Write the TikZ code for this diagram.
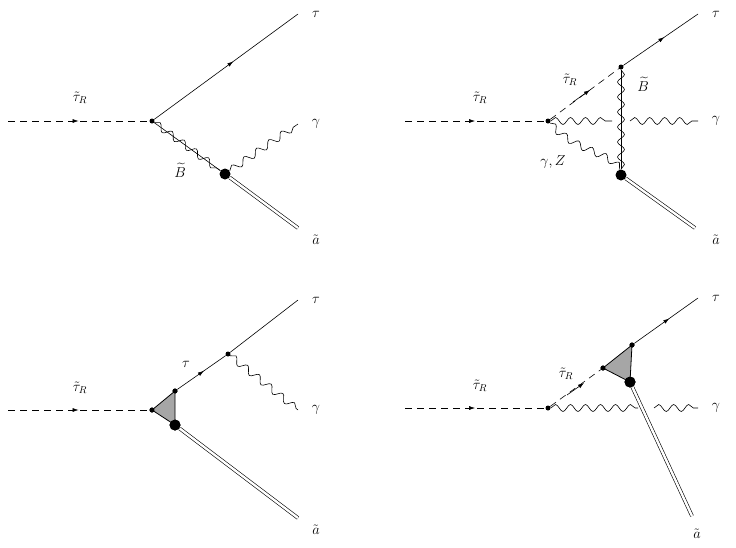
\documentclass[tikz,border=0pt]{standalone}
\usepackage{amsmath}
\usepackage{amssymb}
\usetikzlibrary{arrows.meta}
\usetikzlibrary{decorations.pathmorphing}
\usetikzlibrary{decorations.markings}
\tikzset{
  scalar/.style={dashed,dash pattern=on 7pt off 5pt,postaction={decorate},decoration={markings,mark=at position .5 with {\arrow[solid]{Latex[length=6pt,width=4pt]}}}},
  fermion/.style={postaction={decorate},decoration={markings,mark=at position .55 with {\arrow{Latex[length=6pt,width=4pt]}}}},
  photon/.style={decorate,decoration={snake,amplitude=3.5pt,segment length=15pt}},
  gaugino/.style={postaction={draw,decorate,decoration={snake,amplitude=3.5pt,segment length=15pt}}},
  axino/.style={double,double distance=2.4pt},
  vtx/.style={circle,fill=black,inner sep=0pt,minimum size=5pt},
  bigvtx/.style={circle,fill=black,inner sep=0pt,minimum size=11pt},
  blob/.style={fill=black!35,thick},
  lbl/.style={font=\Large}
}
\begin{document}
\begin{tikzpicture}[x=1pt,y=-1pt,line width=0.6pt]
    \useasboundingbox (0,0) rectangle (736,547);
    % top left
    \coordinate (a1) at (8,121);
    \node[vtx] (v1) at (152,121) {};
    \node[bigvtx] (b1) at (225,174) {};
    \coordinate (t1) at (298,14);
    \coordinate (g1) at (298,124);
    \coordinate (x1) at (298,228);
    \draw[scalar] (a1) -- (v1);
    \draw[fermion] (v1) -- (t1);
    \draw[gaugino] (v1) -- (b1);
    \draw[photon] (b1) -- (g1);
    \draw[axino] (b1) -- (x1);
    \node[lbl] at (80,98) {$\tilde\tau_R$};
    \node[lbl] at (180,170) {$\widetilde B$};
    \node[lbl] at (316,14) {$\tau$};
    \node[lbl] at (316,124) {$\gamma$};
    \node[lbl] at (316,240) {$\tilde a$};
    % top right
    \coordinate (a2) at (405,121);
    \node[vtx] (v2) at (548,121) {};
    \node[vtx] (u2) at (621,67) {};
    \node[bigvtx] (b2) at (621,175) {};
    \coordinate (t2) at (698,14);
    \coordinate (c2) at (612,121);
    \coordinate (d2) at (630,121);
    \coordinate (g2) at (698,121);
    \coordinate (x2) at (695,228);
    \draw[scalar] (a2) -- (v2);
    \draw[dashed,dash pattern=on 7pt off 5pt] (v2) -- (u2);
    \draw[-{Latex[length=6pt,width=4pt]}] (573,102) -- (590,90);
    \draw[fermion] (u2) -- (t2);
    \draw[gaugino] (u2) -- (b2);
    \draw[photon] (v2) -- (c2);
    \draw[photon] (d2) -- (g2);
    \draw[photon] (v2) .. controls (575,150) and (612,150) .. (b2);
    \draw[axino] (b2) -- (x2);
    \node[lbl] at (480,98) {$\tilde\tau_R$};
    \node[lbl] at (570,80) {$\tilde\tau_R$};
    \node[lbl] at (643,84) {$\widetilde B$};
    \node[lbl] at (553,162) {$\gamma, Z$};
    \node[lbl] at (716,14) {$\tau$};
    \node[lbl] at (716,121) {$\gamma$};
    \node[lbl] at (716,240) {$\tilde a$};
    % bottom left
    \coordinate (a3) at (8,410);
    \node[vtx] (v3) at (152,410) {};
    \node[vtx] (p3) at (175,391) {};
    \node[bigvtx] (b3) at (175,425) {};
    \node[vtx] (w3) at (228,354) {};
    \coordinate (t3) at (298,300);
    \coordinate (g3) at (298,410);
    \coordinate (x3) at (298,518);
    \draw[scalar] (a3) -- (v3);
    \draw[blob] (v3.center) -- (p3.center) -- (b3.center) -- cycle;
    \draw[fermion] (p3) -- (w3);
    \draw (w3) -- (t3);
    \draw[photon] (w3) -- (g3);
    \draw[axino] (b3) -- (x3);
    \node[vtx] at (v3) {};
    \node[vtx] at (p3) {};
    \node[bigvtx] at (b3) {};
    \node[lbl] at (80,388) {$\tilde\tau_R$};
    \node[lbl] at (186,364) {$\tau$};
    \node[lbl] at (316,300) {$\tau$};
    \node[lbl] at (316,410) {$\gamma$};
    \node[lbl] at (316,530) {$\tilde a$};
    % bottom right
    \coordinate (a4) at (405,408);
    \node[vtx] (v4) at (548,408) {};
    \node[vtx] (l4) at (603,368) {};
    \node[vtx] (p4) at (632,345) {};
    \node[bigvtx] (b4) at (630,382) {};
    \coordinate (t4) at (698,298);
    \coordinate (c4) at (638,408);
    \coordinate (d4) at (654,408);
    \coordinate (g4) at (698,408);
    \coordinate (x4) at (692,516);
    \draw[scalar] (a4) -- (v4);
    \draw[dashed,dash pattern=on 7pt off 5pt] (v4) -- (l4);
    \draw[-{Latex[length=6pt,width=4pt]}] (567,395) -- (584,383);
    \draw[blob] (l4.center) -- (p4.center) -- (b4.center) -- cycle;
    \draw[fermion] (p4) -- (t4);
    \draw[photon] (v4) -- (c4);
    \draw[photon] (d4) -- (g4);
    \draw[axino] (b4) -- (x4);
    \node[vtx] at (l4) {};
    \node[vtx] at (p4) {};
    \node[bigvtx] at (b4) {};
    \node[lbl] at (480,386) {$\tilde\tau_R$};
    \node[lbl] at (566,374) {$\tilde\tau_R$};
    \node[lbl] at (716,298) {$\tau$};
    \node[lbl] at (716,408) {$\gamma$};
    \node[lbl] at (697,534) {$\tilde a$};
\end{tikzpicture}
\end{document}
